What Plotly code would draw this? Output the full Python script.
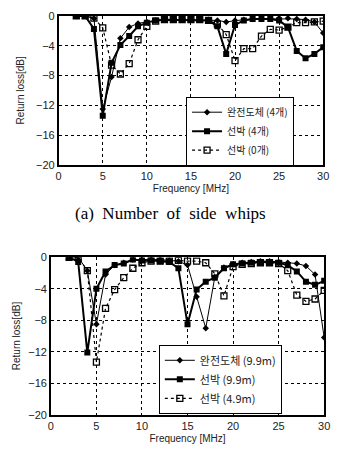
import plotly.graph_objects as go

freq = list(range(2, 31))

# (a) Number of side whips
a_pec4 = [0, 0, -0.3, -12.5, -8.2, -3.0, -1.5, -1.0, -0.8, -0.6, -0.5, -0.5, -0.5, -0.5, -0.5,
          -0.5, -0.6, -0.8, -0.6, -0.5, -0.4, -0.4, -0.3, -0.3, -0.3, -0.4, -0.5, -0.8, -2.3]
a_ship4 = [0, 0, -1.75, -13.4, -6.3, -3.9, -2.7, -1.4, -0.9, -0.6, -0.5, -0.5, -0.5, -0.5, -0.5,
           -0.6, -1.4, -5.1, -1.2, -0.6, -0.4, -0.4, -0.4, -0.6, -1.5, -4.7, -5.7, -5.1, -4.2]
a_ship0 = [0, 0, -0.3, -1.6, -6.6, -7.8, -6.4, -3.2, -1.4, -0.7, -0.5, -0.5, -0.5, -0.5, -0.5,
           -0.6, -1.1, -2.5, -6.0, -4.4, -4.4, -2.7, -1.8, -1.9, -1.5, -0.9, -0.9, -0.8, -0.7]

# (b) lower chart
b_pec99 = [0, 0, -1.7, -8.5, -2.2, -1.0, -0.7, -0.3, -0.3, -0.3, -0.3, -0.4, -0.5, -1.0, -5.0,
           -9.0, -2.5, -1.3, -0.9, -0.7, -0.6, -0.5, -0.5, -0.6, -0.7, -0.8, -1.1, -2.2, -10.2]
b_ship99 = [0, -0.6, -12.1, -4.0, -1.8, -1.0, -0.8, -0.3, -0.4, -0.4, -0.5, -0.6, -1.4, -8.5, -4.1,
            -3.1, -2.6, -1.4, -0.9, -0.8, -0.7, -0.6, -0.6, -0.7, -1.0, -1.8, -3.1, -3.5, -3.0]
b_ship49 = [0, 0, -1.7, -13.3, -6.5, -4.1, -2.6, -1.4, -0.7, -0.5, -0.5, -0.5, -0.4, -0.5, -0.5,
            -0.7, -2.1, -4.9, -1.2, -0.9, -0.8, -0.7, -0.7, -0.8, -1.7, -4.8, -5.6, -5.3, -4.2]

names_a = ["완전도체 (4개)", "선박 (4개)", "선박 (0개)"]
names_b = ["완전도체 (9.9m)", "선박 (9.9m)", "선박 (4.9m)"]
x_ticks = [0, 5, 10, 15, 20, 25, 30]
y_ticks = [0, -4, -8, -12, -16, -20]

OFF = 8  # page body margin
W, H = 344 - 2 * OFF, 459 - 2 * OFF
def dx(a, b):
    return [(a - OFF) / W, (b - OFF) / W]
def dy(top, bot):
    return [1 - (bot - OFF) / H, 1 - (top - OFF) / H]
def px(x):
    return (x - OFF) / W
def py(y):
    return 1 - (y - OFF) / H

styles = [
    dict(line=dict(color="black", width=1), marker=dict(symbol="diamond", size=5, color="black")),
    dict(line=dict(color="black", width=2), marker=dict(symbol="square", size=6, color="black")),
    dict(line=dict(color="black", width=1.2, dash="dot"),
         marker=dict(symbol="square-open", size=6, color="black", line=dict(width=1.3))),
]

fig = go.Figure()
for ys, nm, st in zip([a_pec4, a_ship4, a_ship0], names_a, styles):
    fig.add_trace(go.Scatter(x=freq, y=ys, name=nm, mode="lines+markers", xaxis="x", yaxis="y",
                             legend="legend", **st))
for ys, nm, st in zip([b_pec99, b_ship99, b_ship49], names_b, styles):
    fig.add_trace(go.Scatter(x=freq, y=ys, name=nm, mode="lines+markers", xaxis="x2", yaxis="y2",
                             legend="legend2", **st))

font_main = "Liberation Sans, Arial, Noto Sans CJK KR, sans-serif"
ax_common = dict(showline=True, linecolor="black", linewidth=1.5, mirror=True,
                 showgrid=True, gridcolor="black", griddash="dot", gridwidth=1,
                 zeroline=False, ticks="", tickfont=dict(size=11, color="#222"))

fig.update_layout(
    width=W, height=H, margin=dict(l=0, r=0, t=0, b=0),
    paper_bgcolor="white", plot_bgcolor="white",
    font=dict(family=font_main, color="#222"),
    xaxis=dict(domain=dx(57, 329), anchor="y", range=[0, 30], tickvals=x_ticks,
               title=dict(text="Frequency [MHz]", font=dict(size=10), standoff=4), **ax_common),
    yaxis=dict(domain=dy(10, 163), anchor="x", range=[-20, 0], tickvals=y_ticks,
               title=dict(text="Return loss[dB]", font=dict(size=10), standoff=10), **ax_common),
    xaxis2=dict(domain=dx(49, 330), anchor="y2", range=[0, 30], tickvals=x_ticks,
                title=dict(text="Frequency [MHz]", font=dict(size=10), standoff=4), **ax_common),
    yaxis2=dict(domain=dy(258, 420), anchor="x2", range=[-20, 0], tickvals=y_ticks,
                title=dict(text="Return loss[dB]", font=dict(size=10), standoff=6), **ax_common),
    legend=dict(x=px(188), y=py(93), xanchor="left", yanchor="top",
                bgcolor="white", bordercolor="black", borderwidth=1,
                font=dict(size=10, family="Noto Sans CJK KR, sans-serif"),
                tracegroupgap=0, itemwidth=30),
    legend2=dict(x=px(160), y=py(348), xanchor="left", yanchor="top",
                 bgcolor="white", bordercolor="black", borderwidth=1,
                 font=dict(size=11, family="Noto Sans CJK KR, sans-serif"),
                 tracegroupgap=0, itemwidth=30),
    annotations=[dict(text="(a)  Number  of  side  whips", x=px(172), y=py(213),
                      xref="paper", yref="paper", showarrow=False,
                      font=dict(size=17, family="Liberation Serif, Times New Roman, serif",
                                color="black"))],
)

fig.write_html("out.html")
